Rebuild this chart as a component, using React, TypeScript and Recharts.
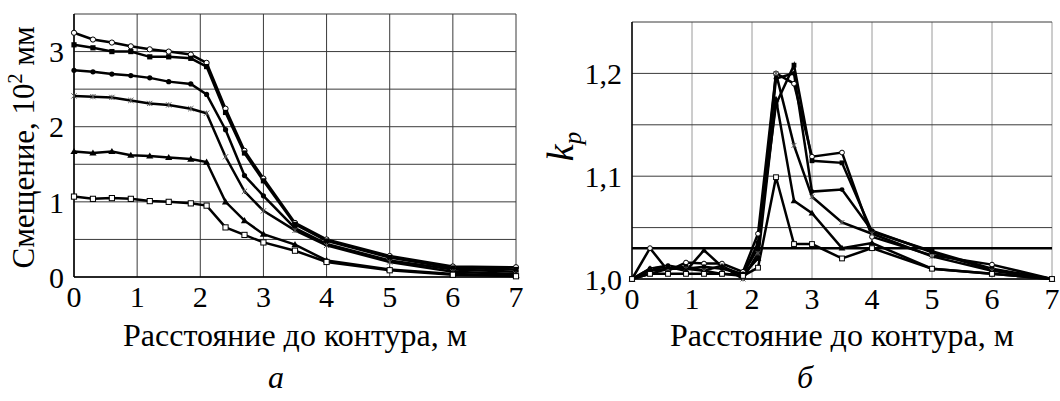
import { LineChart, Line, XAxis, YAxis, CartesianGrid, ReferenceLine, Label } from "recharts"

// distance to contour, m (same stations for both panels)
const distance = [0, 0.3, 0.6, 0.9, 1.2, 1.5, 1.85, 2.1, 2.4, 2.7, 3, 3.5, 4, 5, 6, 7]

// panel a: displacement, 10^2 mm
const dispOpenCircle = [3.25, 3.16, 3.12, 3.07, 3.03, 3.0, 2.96, 2.85, 2.24, 1.68, 1.31, 0.72, 0.5, 0.28, 0.14, 0.13]
const dispSquare = [3.09, 3.05, 3.0, 3.0, 2.93, 2.93, 2.91, 2.8, 2.19, 1.65, 1.28, 0.7, 0.48, 0.26, 0.12, 0.1]
const dispCircle = [2.75, 2.73, 2.7, 2.68, 2.65, 2.6, 2.57, 2.43, 1.96, 1.35, 1.08, 0.65, 0.44, 0.22, 0.1, 0.07]
const dispStar = [2.41, 2.4, 2.39, 2.35, 2.31, 2.29, 2.24, 2.18, 1.6, 1.14, 0.88, 0.62, 0.42, 0.2, 0.07, 0.04]
const dispTriangle = [1.67, 1.65, 1.67, 1.62, 1.61, 1.59, 1.57, 1.53, 1.0, 0.75, 0.57, 0.43, 0.22, 0.1, 0.04, 0.02]
const dispOpenSquare = [1.07, 1.04, 1.05, 1.04, 1.01, 1.0, 0.98, 0.95, 0.66, 0.56, 0.46, 0.35, 0.2, 0.09, 0.03, 0.01]

// panel б: k_p
const kOpenCircle = [1.0, 1.03, 1.008, 1.016, 1.015, 1.015, 1.007, 1.044, 1.2, 1.19, 1.119, 1.123, 1.041, 1.023, 1.014, 1.0]
const kSquare = [1.0, 1.005, 1.01, 1.012, 1.008, 1.005, 1.004, 1.035, 1.17, 1.208, 1.115, 1.113, 1.046, 1.027, 1.01, 1.0]
const kCircle = [1.0, 1.01, 1.013, 1.01, 1.012, 1.01, 1.005, 1.03, 1.195, 1.2, 1.085, 1.087, 1.047, 1.026, 1.009, 1.0]
const kStar = [1.0, 1.008, 1.01, 1.01, 1.008, 1.013, 1.0, 1.025, 1.2, 1.13, 1.08, 1.055, 1.044, 1.022, 1.008, 1.0]
const kTriangle = [1.0, 1.01, 1.012, 1.008, 1.028, 1.012, 1.004, 1.02, 1.175, 1.076, 1.064, 1.03, 1.035, 1.01, 1.005, 1.0]
const kOpenSquare = [1.0, 1.005, 1.005, 1.005, 1.005, 1.005, 1.003, 1.011, 1.099, 1.034, 1.034, 1.02, 1.03, 1.01, 1.005, 1.0]
const kThreshold = 1.03

const xTicks = [0, 1, 2, 3, 4, 5, 6, 7]
const dispTicks = [0, 0.5, 1, 1.5, 2, 2.5, 3, 3.5]
const kTicks = [1, 1.05, 1.1, 1.15, 1.2, 1.25]

const xTitle = "Расстояние до контура, м"

const series = [
  { key: "oc", shape: "circleOpen", disp: dispOpenCircle, k: kOpenCircle },
  { key: "sq", shape: "square", disp: dispSquare, k: kSquare },
  { key: "ci", shape: "circle", disp: dispCircle, k: kCircle },
  { key: "st", shape: "star", disp: dispStar, k: kStar },
  { key: "tr", shape: "triangle", disp: dispTriangle, k: kTriangle },
  { key: "os", shape: "squareOpen", disp: dispOpenSquare, k: kOpenSquare },
]

const dispData = distance.map((x, i) => {
  const row: any = { x }
  series.forEach(s => (row[s.key] = s.disp[i]))
  return row
})
const kData = distance.map((x, i) => {
  const row: any = { x }
  series.forEach(s => (row[s.key] = s.k[i]))
  return row
})

const FONT = "'Liberation Serif', 'Times New Roman', serif"
const tickStyle = { fontSize: 30, fill: "#000", fontFamily: FONT }

const makeDot = (shape: string, r: number) => (props: any) => {
  const { cx, cy, index } = props
  if (cx == null || cy == null) return <g key={index} />
  switch (shape) {
    case "circleOpen":
      return <circle key={index} cx={cx} cy={cy} r={r} fill="#fff" stroke="#000" strokeWidth={1} />
    case "circle":
      return <circle key={index} cx={cx} cy={cy} r={r} fill="#000" />
    case "square":
      return <rect key={index} x={cx - r} y={cy - r} width={r * 2} height={r * 2} fill="#000" />
    case "squareOpen":
      return <rect key={index} x={cx - r} y={cy - r} width={r * 2} height={r * 2} fill="#fff" stroke="#000" strokeWidth={1} />
    case "triangle":
      return <polygon key={index} points={`${cx},${cy - r - 1} ${cx - r - 1},${cy + r} ${cx + r + 1},${cy + r}`} fill="#000" />
    default:
      return (
        <g key={index} stroke="#555" strokeWidth={1}>
          <line x1={cx - r} y1={cy - r} x2={cx + r} y2={cy + r} />
          <line x1={cx - r} y1={cy + r} x2={cx + r} y2={cy - r} />
          <line x1={cx} y1={cy - r} x2={cx} y2={cy + r} />
        </g>
      )
  }
}

const DispTitle = ({ viewBox }: any) => {
  const cy = viewBox.y + viewBox.height / 2 + 2
  return (
    <text transform={`translate(34, ${cy}) rotate(-90)`} textAnchor="middle" fontFamily={FONT} fontSize={31} fill="#000">
      Смещение, 10<tspan fontSize={20} dy={-12}>2</tspan>
      <tspan dy={12}> мм</tspan>
    </text>
  )
}

const KTitle = ({ viewBox }: any) => {
  const cy = viewBox.y + viewBox.height / 2 - 4
  return (
    <text transform={`translate(33, ${cy}) rotate(-90)`} textAnchor="middle" fontFamily={FONT} fontStyle="italic" fontSize={38} fill="#000">
      k<tspan fontSize={25} dy={8}>p</tspan>
    </text>
  )
}

const fmtDisp = (v: number) => (Number.isInteger(v) ? String(v) : "")
const fmtK = (v: number) => {
  const t = v * 10
  return Math.abs(t - Math.round(t)) < 1e-6 ? v.toFixed(1).replace(".", ",") : ""
}

const titleStyle = { fontSize: 32, fill: "#000", fontFamily: FONT }

export default function App() {
  return (
    <div style={{ position: "absolute", left: 0, top: 0, width: 1060, height: 401, background: "#fff", fontFamily: FONT }}>
      <div style={{ position: "absolute", left: 0, top: 0 }}>
        <LineChart width={530} height={401} data={dispData} margin={{ top: 14, right: 14, left: 0, bottom: 0 }}>
          <CartesianGrid stroke="#3a3a3a" strokeWidth={1} />
          <XAxis
            dataKey="x"
            type="number"
            domain={[0, 7]}
            ticks={xTicks}
            height={124}
            tick={tickStyle}
            tickLine={false}
            axisLine={{ stroke: "#000", strokeWidth: 1.5 }}
            dy={1}
          >
            <Label value={xTitle} position="insideBottom" offset={55} style={titleStyle} />
          </XAxis>
          <YAxis
            type="number"
            domain={[0, 3.5]}
            ticks={dispTicks}
            tickFormatter={fmtDisp}
            width={74}
            tick={tickStyle}
            tickLine={false}
            axisLine={{ stroke: "#000", strokeWidth: 1.5 }}
            interval={0}
            dx={-2}
          >
            <Label content={<DispTitle />} />
          </YAxis>
          {series.map(s => (
            <Line
              key={s.key}
              type="linear"
              dataKey={s.key}
              stroke="#000"
              strokeWidth={2.5}
              dot={makeDot(s.shape, 2.6)}
              activeDot={false}
              isAnimationActive={false}
            />
          ))}
        </LineChart>
      </div>
      <div style={{ position: "absolute", left: 540, top: 0 }}>
        <LineChart width={520} height={401} data={kData} margin={{ top: 22, right: 8, left: 0, bottom: 0 }}>
          <CartesianGrid stroke="#9a9a9a" horizontal={false} />
          <CartesianGrid stroke="#3a3a3a" vertical={false} />
          <XAxis
            dataKey="x"
            type="number"
            domain={[0, 7]}
            ticks={xTicks}
            height={122}
            tick={tickStyle}
            tickLine={false}
            axisLine={{ stroke: "#000", strokeWidth: 1.5 }}
            dy={1}
          >
            <Label value={xTitle} position="insideBottom" offset={55} style={titleStyle} />
          </XAxis>
          <YAxis
            type="number"
            domain={[1, 1.25]}
            ticks={kTicks}
            tickFormatter={fmtK}
            width={92}
            tick={tickStyle}
            tickLine={false}
            axisLine={{ stroke: "#000", strokeWidth: 1.5 }}
            interval={0}
            dx={-2}
          >
            <Label content={<KTitle />} />
          </YAxis>
          <ReferenceLine y={kThreshold} stroke="#000" strokeWidth={2.5} />
          {series.map(s => (
            <Line
              key={s.key}
              type="linear"
              dataKey={s.key}
              stroke="#000"
              strokeWidth={2.5}
              dot={makeDot(s.shape, 2.4)}
              activeDot={false}
              isAnimationActive={false}
            />
          ))}
        </LineChart>
      </div>
      <div style={{ position: "absolute", left: 268, top: 359, fontSize: 32, fontStyle: "italic" }}>а</div>
      <div style={{ position: "absolute", left: 797, top: 359, fontSize: 32, fontStyle: "italic" }}>б</div>
    </div>
  )
}
